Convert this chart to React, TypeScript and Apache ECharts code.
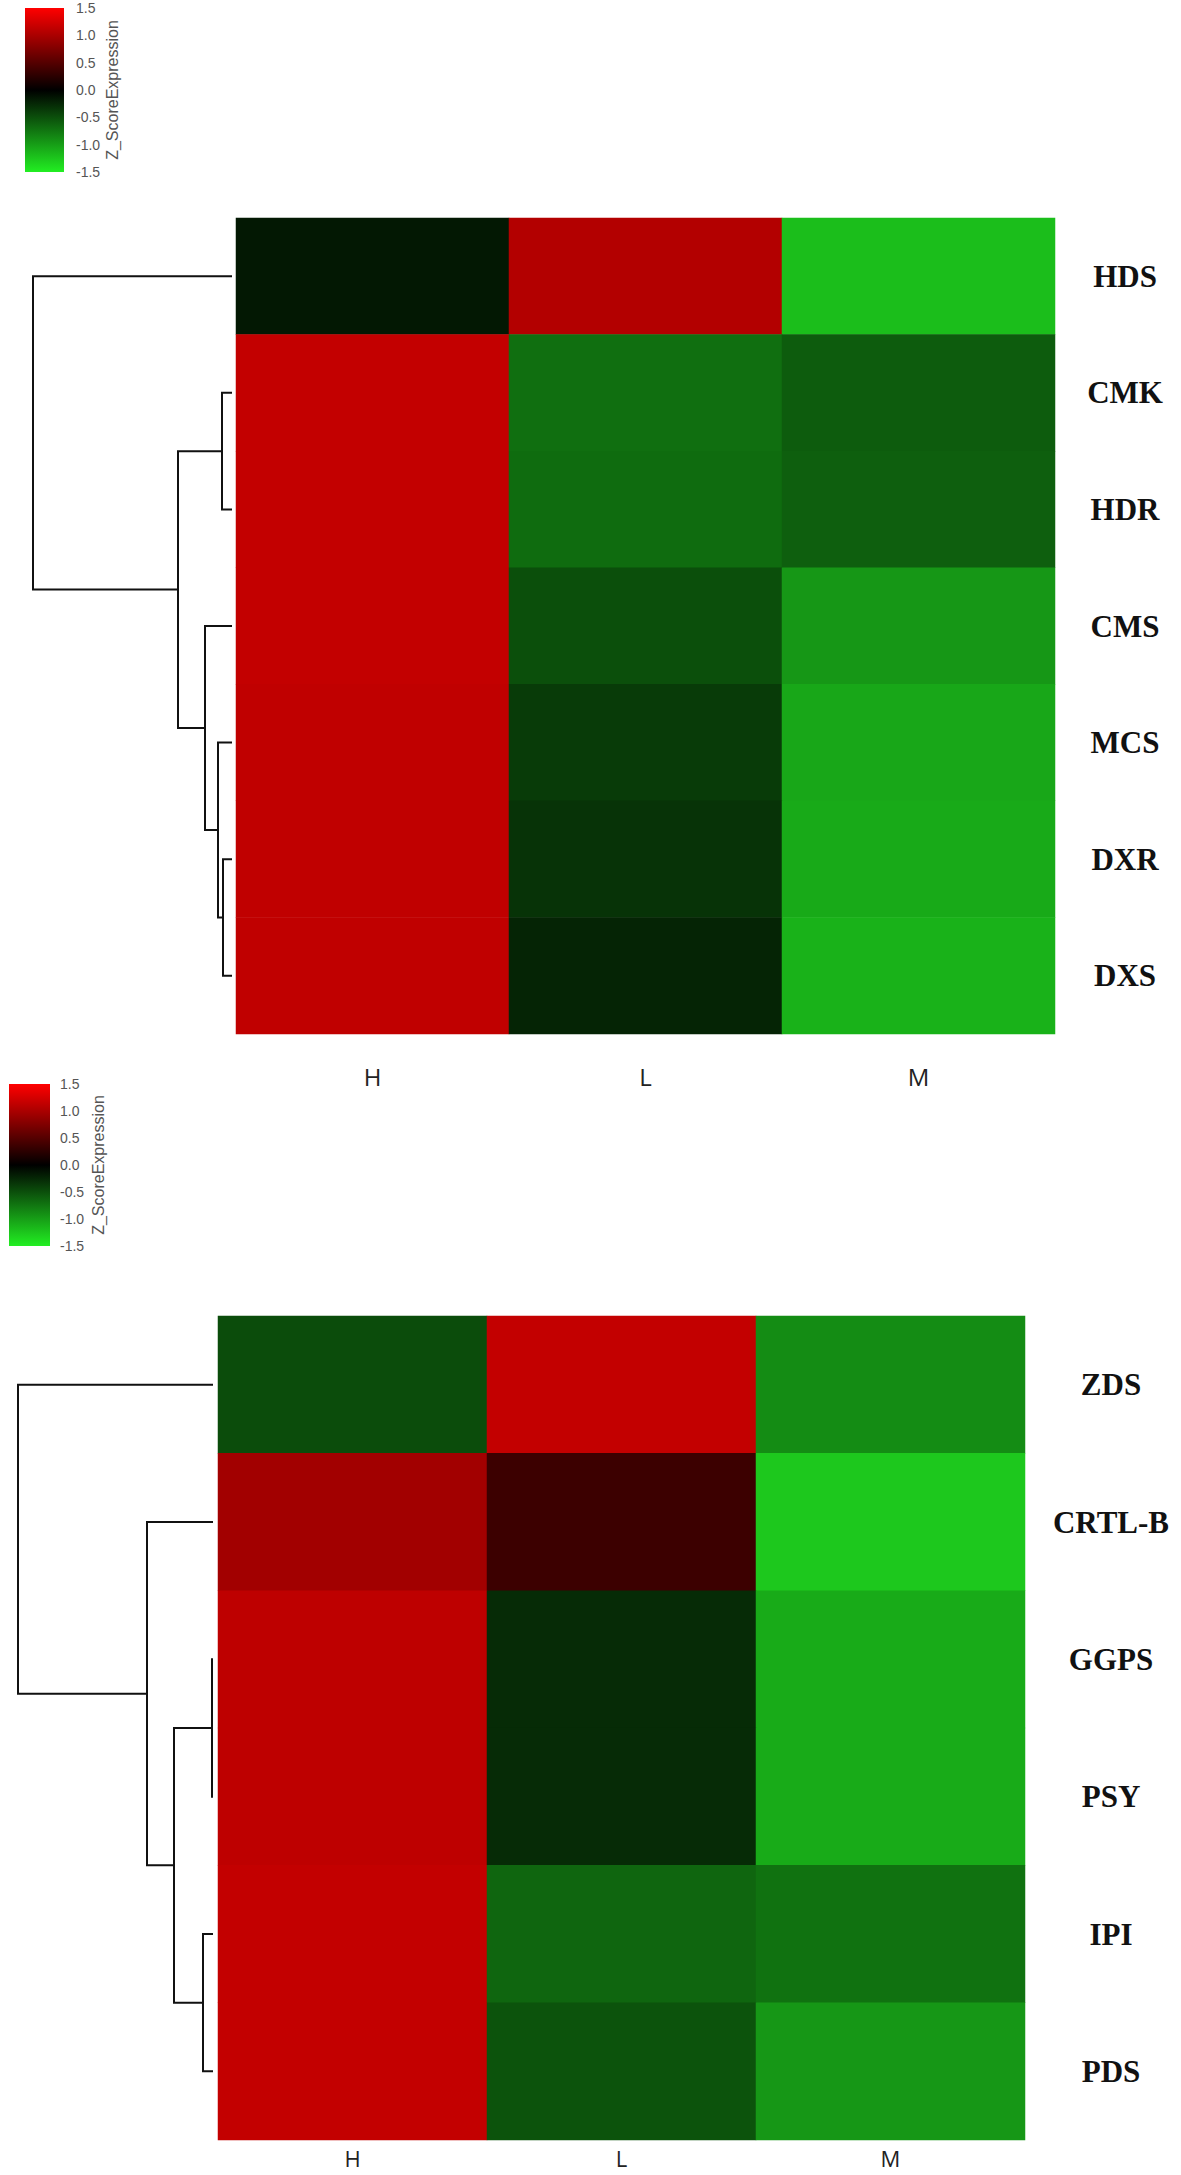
import React, { useEffect, useRef } from "react";
import * as echarts from "echarts";

// ---------- data ----------
const columns = ["H", "L", "M"];

const topGenes = ["HDS", "CMK", "HDR", "CMS", "MCS", "DXR", "DXS"];
const topH = [-0.15, 1.15, 1.15, 1.15, 1.13, 1.13, 1.13];
const topL = [1.05, -0.7, -0.68, -0.5, -0.37, -0.32, -0.23];
const topM = [-1.2, -0.58, -0.6, -0.95, -1.05, -1.07, -1.12];

const bottomGenes = ["ZDS", "CRTL-B", "GGPS", "PSY", "IPI", "PDS"];
const bottomH = [-0.48, 0.95, 1.12, 1.12, 1.15, 1.15];
const bottomL = [1.15, 0.35, -0.27, -0.27, -0.64, -0.52];
const bottomM = [-0.88, -1.26, -1.08, -1.08, -0.72, -0.95];

// linkage: [childA, childB, height]; a number refers to an earlier merge
const topLinkage: [string | number, string | number, number][] = [
  ["DXR", "DXS", 0.36],
  ["CMK", "HDR", 0.4],
  ["MCS", 0, 0.56],
  ["CMS", 2, 1.08],
  [1, 3, 2.16],
  ["HDS", 4, 7.96],
];
const bottomLinkage: [string | number, string | number, number][] = [
  ["GGPS", "PSY", 0.04],
  ["IPI", "PDS", 0.4],
  [0, 1, 1.56],
  ["CRTL-B", 2, 2.64],
  ["ZDS", 3, 7.8],
];

const legendTicks = [1.5, 1.0, 0.5, 0.0, -0.5, -1.0, -1.5];
const legendTitle = "Z_ScoreExpression";
const scaleColors = ["#22ee22", "#000000", "#ff0000"];

// ---------- helpers ----------
function heatData(genes: string[], h: number[], l: number[], m: number[]) {
  const out: number[][] = [];
  const cols = [h, l, m];
  genes.forEach((_, r) => {
    cols.forEach((c, ci) => out.push([ci, r, c[r]]));
  });
  return out;
}

function dendroSegments(genes: string[], linkage: [string | number, string | number, number][]) {
  const nodes: { x: number; y: number }[] = [];
  const pos = (ref: string | number) =>
    typeof ref === "number" ? nodes[ref] : { x: 0, y: genes.indexOf(ref) + 0.5 };
  const segs: any[] = [];
  linkage.forEach(([a, b, h]) => {
    const pa = pos(a);
    const pb = pos(b);
    segs.push({
      coords: [
        [pa.x, pa.y],
        [h, pa.y],
        [h, pb.y],
        [pb.x, pb.y],
      ],
    });
    nodes.push({ x: h, y: (pa.y + pb.y) / 2 });
  });
  return segs;
}

// ---------- layout ----------
const layouts = [
  { hmLeft: 236, hmTop: 218, hmW: 819, hmH: 816, dLeft: 33, dRight: 232, xMargin: 30, yMargin: 70, xFont: 24 },
  { hmLeft: 218, hmTop: 1316, hmW: 807, hmH: 824, dLeft: 18, dRight: 213, xMargin: 7, yMargin: 86, xFont: 22 },
];
const legendBlocks = [
  { x: 25, y: 8, w: 39, h: 164, labelX: 76, titleX: 112 },
  { x: 9, y: 1084, w: 41, h: 162, labelX: 60, titleX: 98 },
];

export default function App() {
  const ref = useRef<HTMLDivElement>(null);

  useEffect(() => {
    document.body.style.margin = "0";
    if (!ref.current) return;
    const chart = echarts.init(ref.current, undefined, { renderer: "svg" });

    const sets = [
      { genes: topGenes, data: heatData(topGenes, topH, topL, topM), link: topLinkage },
      { genes: bottomGenes, data: heatData(bottomGenes, bottomH, bottomL, bottomM), link: bottomLinkage },
    ];

    const grids: any[] = [];
    const xAxes: any[] = [];
    const yAxes: any[] = [];
    const series: any[] = [];

    sets.forEach((s, i) => {
      const L = layouts[i];
      grids.push({
        left: L.hmLeft,
        top: L.hmTop,
        width: L.hmW,
        height: L.hmH,
        outerBoundsMode: "none",
        containLabel: false,
      });
      xAxes.push({
        type: "category",
        gridIndex: i,
        data: columns,
        axisLine: { show: false },
        axisTick: { show: false },
        splitLine: { show: false },
        axisLabel: {
          margin: L.xMargin,
          fontSize: L.xFont,
          fontFamily: "Open Sans",
          color: "#222",
        },
      });
      yAxes.push({
        type: "category",
        gridIndex: i,
        data: s.genes,
        inverse: true,
        position: "right",
        axisLine: { show: false },
        axisTick: { show: false },
        splitLine: { show: false },
        axisLabel: {
          margin: L.yMargin,
          align: "center",
          fontSize: 31,
          fontWeight: "bold",
          fontFamily: "Liberation Serif",
          color: "#111",
        },
      });
      series.push({
        type: "heatmap",
        xAxisIndex: i,
        yAxisIndex: i,
        data: s.data,
        itemStyle: { borderWidth: 0 },
        emphasis: { disabled: true },
      });
    });

    sets.forEach((s, i) => {
      const L = layouts[i];
      const gi = 2 + i;
      const rootH = s.link[s.link.length - 1][2];
      grids.push({
        left: L.dLeft,
        top: L.hmTop,
        width: L.dRight - L.dLeft,
        height: L.hmH,
        outerBoundsMode: "none",
        containLabel: false,
      });
      xAxes.push({
        type: "value",
        gridIndex: gi,
        min: 0,
        max: rootH,
        inverse: true,
        show: false,
      });
      yAxes.push({
        type: "value",
        gridIndex: gi,
        min: 0,
        max: s.genes.length,
        inverse: true,
        show: false,
      });
      series.push({
        type: "lines",
        coordinateSystem: "cartesian2d",
        xAxisIndex: gi,
        yAxisIndex: gi,
        polyline: true,
        clip: false,
        silent: true,
        data: dendroSegments(s.genes, s.link),
        lineStyle: { color: "#111", width: 2, opacity: 1, curveness: 0 },
      });
    });

    const graphics: any[] = [];
    legendBlocks.forEach((b) => {
      graphics.push({
        type: "rect",
        shape: { x: b.x, y: b.y, width: b.w, height: b.h },
        style: {
          fill: new echarts.graphic.LinearGradient(0, 0, 0, 1, [
            { offset: 0, color: scaleColors[2] },
            { offset: 0.5, color: scaleColors[1] },
            { offset: 1, color: scaleColors[0] },
          ]),
        },
        silent: true,
      });
      legendTicks.forEach((t, k) => {
        graphics.push({
          type: "text",
          x: b.labelX,
          y: b.y + (k * b.h) / (legendTicks.length - 1),
          style: {
            text: t.toFixed(1),
            fontSize: 14,
            fontFamily: "Liberation Sans",
            fill: "#555",
            textAlign: "left",
            textVerticalAlign: "middle",
          },
          silent: true,
        });
      });
      graphics.push({
        type: "text",
        x: b.titleX,
        y: b.y + b.h / 2,
        rotation: Math.PI / 2,
        style: {
          text: legendTitle,
          fontSize: 16,
          fontFamily: "Liberation Sans",
          fill: "#555",
          textAlign: "center",
          textVerticalAlign: "middle",
        },
        silent: true,
      });
    });

    chart.setOption({
      animation: false,
      backgroundColor: "#ffffff",
      grid: grids,
      xAxis: xAxes,
      yAxis: yAxes,
      visualMap: {
        type: "continuous",
        show: false,
        min: -1.5,
        max: 1.5,
        seriesIndex: [0, 1],
        inRange: { color: scaleColors },
      },
      graphic: graphics,
      series,
    });

    return () => chart.dispose();
  }, []);

  return <div ref={ref} style={{ width: 1181, height: 2175 }} />;
}
